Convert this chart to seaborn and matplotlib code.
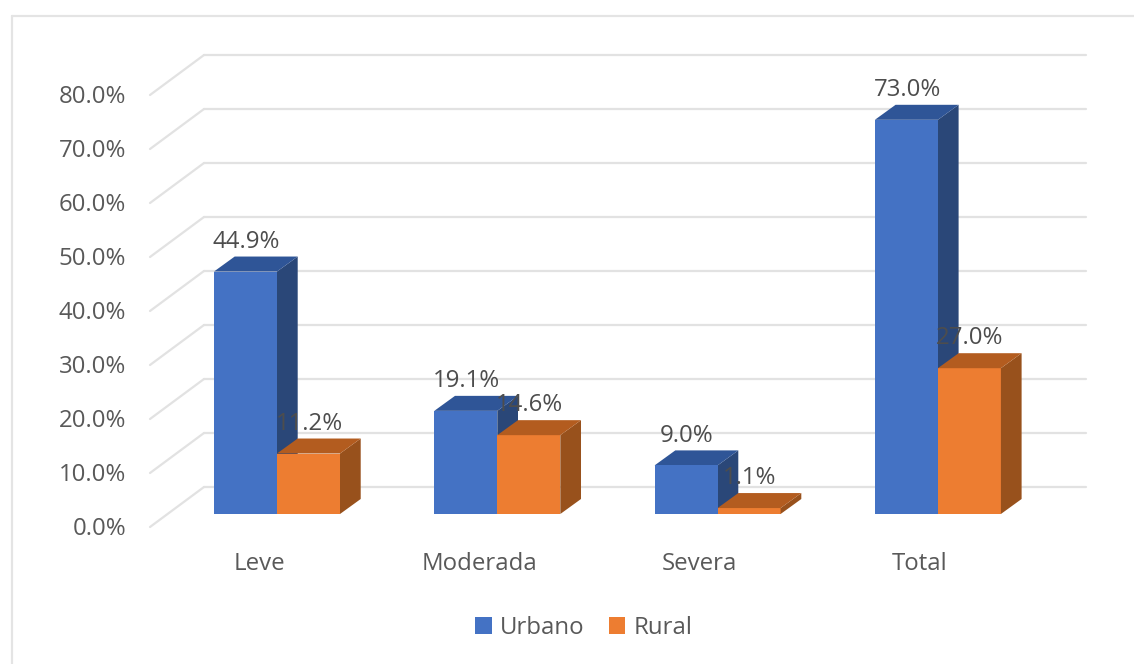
import pandas as pd
import matplotlib
matplotlib.use("Agg")
import matplotlib.pyplot as plt
import matplotlib.transforms as mtrans
from matplotlib.lines import Line2D
from matplotlib.patches import Polygon
import seaborn as sns

categorias = ["Leve", "Moderada", "Severa", "Total"]
urbano = [44.9, 19.1, 9.0, 73.0]
rural = [11.2, 14.6, 1.1, 27.0]
ticks_y = [0, 10, 20, 30, 40, 50, 60, 70, 80]

# pixel layout of the figure
W, H = 1134, 664
PX_X = 220.3   # px per category
PX_Y = 5.40    # px per percent
X0 = 277       # px of first category centre
Y0 = 514       # px of baseline
LEFT, RIGHT, TOP = 150, 1086, 40
FS = 17.3


def main():
    df = pd.DataFrame({
        "grado": categorias * 2,
        "zona": ["Urbano"] * 4 + ["Rural"] * 4,
        "pct": urbano + rural,
    })

    sns.set_style("white")
    plt.rcParams["font.family"] = ["Open Sans", "DejaVu Sans"]

    fig = plt.figure(figsize=(W / 100, H / 100), dpi=100)
    ax = fig.add_axes([LEFT / W, 1 - Y0 / H, (RIGHT - LEFT) / W, (Y0 - TOP) / H])

    sns.barplot(data=df, x="grado", y="pct", hue="zona", ax=ax, width=0.572, gap=0,
                palette={"Urbano": "#4472C4", "Rural": "#ED7D31"}, saturation=1,
                errorbar=None, zorder=3, linewidth=0)

    ax.set_xlim((LEFT - X0) / PX_X, (RIGHT - X0) / PX_X)
    ax.set_ylim(0, (Y0 - TOP) / PX_Y)
    ax.set_xlabel("")
    ax.set_ylabel("")
    sns.despine(ax=ax, left=True, bottom=True)

    # Back wall and side wall gridlines
    for v in ticks_y:
        ax.plot([(204 - X0) / PX_X, (RIGHT - X0) / PX_X], [v + 27 / PX_Y] * 2,
                color="#E2E2E2", lw=1.6, zorder=1, clip_on=False)
        ax.plot([(LEFT - X0) / PX_X, (204 - X0) / PX_X], [v - 13 / PX_Y, v + 27 / PX_Y],
                color="#E2E2E2", lw=1.6, zorder=1, clip_on=False)

    # Fake 3D faces and value labels
    dx = 20.7 / PX_X
    dy = 15 / PX_Y
    colores = [("#2A4778", "#2F5597"), ("#98511C", "#B35C1F")]
    for cont, (c_lado, c_tapa), z in zip(ax.containers, colores, [2, 4]):
        for b in cont:
            x0, x1, h = b.get_x(), b.get_x() + b.get_width(), b.get_height()
            ax.add_patch(Polygon([(x1, 0), (x1 + dx, dy), (x1 + dx, h + dy), (x1, h)],
                                 color=c_lado, lw=0, zorder=z, clip_on=False))
            ax.add_patch(Polygon([(x0, h), (x0 + dx, h + dy), (x1 + dx, h + dy), (x1, h)],
                                 color=c_tapa, lw=0, zorder=z, clip_on=False))
            ax.annotate(f"{h:.1f}%", (b.get_x() + b.get_width() / 2, h), xytext=(0.5, 21.5),
                        textcoords="offset points", ha="center", va="center",
                        fontsize=FS, color="#4D4D4D", zorder=6)

    # Tick labels
    ax.set_yticks(ticks_y)
    ax.set_yticklabels([f"{v:.1f}%" for v in ticks_y])
    ax.tick_params(axis="y", length=0, pad=17, labelsize=FS, labelcolor="#595959")
    ax.tick_params(axis="x", length=0, pad=27, labelsize=FS, labelcolor="#595959")
    off_y = mtrans.ScaledTranslation(0, -12 / 100, fig.dpi_scale_trans)
    for lab in ax.get_yticklabels():
        lab.set_transform(lab.get_transform() + off_y)
    off_x = mtrans.ScaledTranslation(-18 / 100, 0, fig.dpi_scale_trans)
    for lab in ax.get_xticklabels():
        lab.set_transform(lab.get_transform() + off_x)

    # Legend below the plot
    sns.move_legend(ax, "center", bbox_to_anchor=((584 - LEFT) / (RIGHT - LEFT), -(628 - Y0) / (Y0 - TOP)),
                    ncol=2, frameon=False, title=None, fontsize=FS, labelcolor="#595959",
                    handlelength=0.68, handleheight=0.68, handletextpad=0.35, columnspacing=1.0)

    # Outer chart border, cut off by the image edge
    fig.add_artist(Line2D([11.5 / W, 1], [1 - 15.5 / H] * 2, color="#E4E4E4", lw=1.6))
    fig.add_artist(Line2D([11.5 / W] * 2, [1 - 15.5 / H, 0], color="#E4E4E4", lw=1.6))

    fig.savefig("out.png", dpi=100)


if __name__ == "__main__":
    main()
